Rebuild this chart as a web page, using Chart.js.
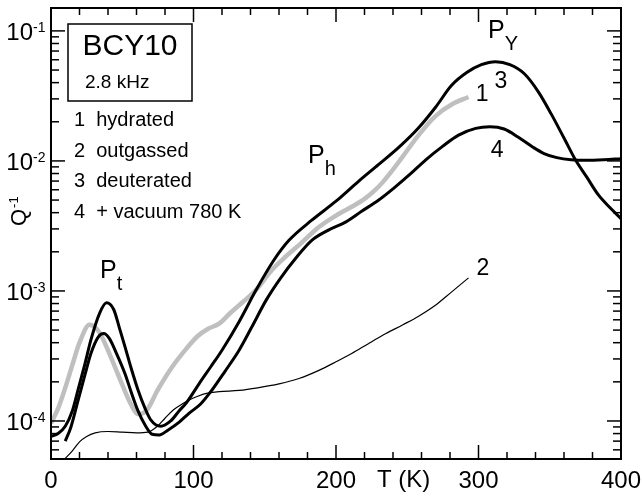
<!DOCTYPE html>
<html>
<head>
<meta charset="utf-8">
<script src="https://cdn.jsdelivr.net/npm/chart.js@4.4.1/dist/chart.umd.min.js"></script>
<style>
  html, body { margin: 0; padding: 0; background: #fff; }
  #wrap { width: 642px; height: 500px; }
</style>
</head>
<body>
<div id="wrap"><canvas id="chart" width="642" height="500"></canvas></div>
<script>
// 1 hydrated (grey)
const t1 = [0, 5, 10, 15, 20, 27, 34, 42, 50, 56, 61, 67, 75, 85, 95, 103, 110, 118, 126, 135, 144, 155, 165, 175, 188, 200, 212, 220, 227, 233, 239, 246, 258, 270, 282, 293];
const q1 = [9.6e-5, 1.25e-4, 1.8e-4, 2.7e-4, 4.0e-4, 5.5e-4, 4.8e-4, 3.1e-4, 1.9e-4, 1.35e-4, 1.13e-4, 1.2e-4, 1.74e-4, 2.6e-4, 3.6e-4, 4.5e-4, 5.1e-4, 5.6e-4, 6.8e-4, 8.3e-4, 1.02e-3, 1.45e-3, 1.85e-3, 2.3e-3, 3.1e-3, 3.8e-3, 4.5e-3, 5.1e-3, 5.9e-3, 6.9e-3, 8.3e-3, 0.0105, 0.0158, 0.0222, 0.0275, 0.031];

// 2 outgassed (thin)
const t2 = [8, 15, 20, 25, 31, 40, 50, 60, 68, 75, 80, 86, 92, 97, 103, 109, 118, 132, 145, 160, 174, 188, 200, 211, 223, 235, 247, 258, 270, 281, 293];
const q2 = [4.9e-5, 5.9e-5, 6.9e-5, 7.6e-5, 8.1e-5, 8.3e-5, 8.2e-5, 8.1e-5, 8.2e-5, 9.2e-5, 1.05e-4, 1.22e-4, 1.35e-4, 1.45e-4, 1.55e-4, 1.63e-4, 1.68e-4, 1.72e-4, 1.8e-4, 1.93e-4, 2.12e-4, 2.45e-4, 2.85e-4, 3.3e-4, 3.95e-4, 4.7e-4, 5.5e-4, 6.4e-4, 7.8e-4, 9.8e-4, 1.26e-3];

// 3 deuterated
const t3 = [0, 5, 10, 15, 19, 24, 28, 34, 39, 44, 48, 52, 56, 61, 66, 70, 77, 84, 90, 95, 104, 112, 120, 132, 144, 156, 167, 183, 200, 216, 230, 245, 258, 270, 281, 292, 302, 312, 322, 332, 342, 351, 360, 368, 376, 384, 392, 400];
const q3 = [7.6e-5, 8.0e-5, 9.1e-5, 1.2e-4, 1.74e-4, 2.8e-4, 4.2e-4, 6.7e-4, 8.1e-4, 7.2e-4, 5.2e-4, 3.7e-4, 2.6e-4, 1.74e-4, 1.25e-4, 1.02e-4, 9.1e-5, 1.0e-4, 1.2e-4, 1.38e-4, 1.94e-4, 2.6e-4, 3.5e-4, 5.8e-4, 1.02e-3, 1.7e-3, 2.45e-3, 3.5e-3, 4.9e-3, 7.0e-3, 9.4e-3, 0.013, 0.018, 0.026, 0.038, 0.048, 0.055, 0.058, 0.055, 0.047, 0.034, 0.023, 0.015, 0.0102, 0.0075, 0.0055, 0.0044, 0.0036];

// 4 + vacuum 780 K
const t4 = [10, 14, 19, 24, 28, 33, 37, 41, 46, 52, 56, 61, 66, 71, 76, 82, 90, 97, 105, 113, 122, 132, 141, 151, 161, 172, 183, 195, 207, 218, 230, 240, 252, 263, 275, 286, 298, 308, 318, 328, 338, 346, 355, 365, 375, 388, 400];
const q4 = [7.0e-5, 9.0e-5, 1.44e-4, 2.3e-4, 3.3e-4, 4.4e-4, 4.7e-4, 4.3e-4, 3.3e-4, 2.3e-4, 1.7e-4, 1.2e-4, 9.3e-5, 7.9e-5, 7.8e-5, 8.5e-5, 9.8e-5, 1.15e-4, 1.35e-4, 1.73e-4, 2.4e-4, 3.5e-4, 5.3e-4, 8.5e-4, 1.25e-3, 1.8e-3, 2.45e-3, 2.95e-3, 3.4e-3, 4.1e-3, 5.0e-3, 6.1e-3, 7.9e-3, 0.0102, 0.013, 0.0158, 0.0178, 0.0183, 0.0176, 0.0152, 0.0128, 0.0114, 0.0106, 0.0102, 0.0101, 0.0102, 0.0104];

const xMajorTicks = [0, 100, 200, 300, 400];
const xMinorStep = 20;
const yDecades = [1e-4, 1e-3, 1e-2, 1e-1];
const yDecadeExponents = ["-4", "-3", "-2", "-1"];

const legendTitle = "BCY10";
const legendFreq = "2.8 kHz";
const legendLines = ["1  hydrated", "2  outgassed", "3  deuterated", "4  + vacuum 780 K"];

const curveLabels = [
  { text: "1", t: 302.5, q: 0.0322 },
  { text: "3", t: 315.8, q: 0.0406 },
  { text: "4", t: 313, q: 0.0119 },
  { text: "2", t: 303, q: 1.48e-3 },
];
const peakLabels = [
  { main: "P", sub: "t", t: 34.4, q: 1.26e-3 },
  { main: "P", sub: "h", t: 180.4, q: 9.66e-3 },
  { main: "P", sub: "Y", t: 306.7, q: 0.0883 },
];

const FONT = '"Liberation Sans", Arial, Helvetica, sans-serif';
const toPoints = (ts, qs) => ts.map((t, i) => ({ x: t, y: qs[i] }));

const line = (ctx, x0, y0, x1, y1) => {
  ctx.beginPath();
  ctx.moveTo(x0, y0);
  ctx.lineTo(x1, y1);
  ctx.stroke();
};

const framePlugin = {
  id: "frame",
  afterDatasetsDraw(chart) {
    const { ctx, chartArea: a } = chart;
    const x = chart.scales.x;
    const y = chart.scales.y;
    ctx.save();
    ctx.strokeStyle = "#000";
    ctx.fillStyle = "#000";

    // ticks, inward on all four sides
    ctx.lineWidth = 1.5;
    for (let t = x.min; t <= x.max; t += xMinorStep) {
      const px = x.getPixelForValue(t);
      const len = xMajorTicks.includes(t) ? 14 : 7;
      line(ctx, px, a.bottom, px, a.bottom - len);
      line(ctx, px, a.top, px, a.top + len);
    }
    [1e-5, ...yDecades].forEach((d) => {
      for (let m = 1; m <= 9; m++) {
        const v = d * m;
        if (v < y.min || v > y.max) continue;
        const py = y.getPixelForValue(v);
        const len = m === 1 ? 14 : 8;
        line(ctx, a.left, py, a.left + len, py);
        line(ctx, a.right, py, a.right - len, py);
      }
    });

    ctx.lineWidth = 2;
    ctx.strokeRect(a.left, a.top, a.right - a.left, a.bottom - a.top);

    // x tick labels
    ctx.font = "24px " + FONT;
    ctx.textAlign = "center";
    ctx.textBaseline = "alphabetic";
    xMajorTicks.forEach((t) => {
      ctx.fillText(String(t), x.getPixelForValue(t), a.bottom + 29);
    });
    ctx.textAlign = "left";
    ctx.fillText("T (K)", 377, a.bottom + 28);

    // y tick labels 10^n
    yDecades.forEach((d, i) => {
      const py = y.getPixelForValue(d);
      ctx.font = "24px " + FONT;
      ctx.textAlign = "right";
      ctx.fillText("10", 33, py + 9);
      ctx.font = "14px " + FONT;
      ctx.textAlign = "left";
      ctx.fillText(yDecadeExponents[i], 33, py + 1);
    });

    // y title Q^-1
    ctx.save();
    ctx.translate(26, 226);
    ctx.rotate(-Math.PI / 2);
    ctx.font = "22px " + FONT;
    ctx.textAlign = "left";
    ctx.fillText("Q", 0, 0);
    const qw = ctx.measureText("Q").width;
    ctx.font = "13px " + FONT;
    ctx.fillText("-1", qw + 1, -8);
    ctx.restore();

    // legend box
    ctx.lineWidth = 1.5;
    ctx.strokeRect(a.left + 17, a.top + 16, 124, 77);
    ctx.font = "30px " + FONT;
    ctx.textAlign = "center";
    ctx.fillText(legendTitle, a.left + 79, a.top + 47);
    ctx.font = "19px " + FONT;
    ctx.textAlign = "left";
    ctx.fillText(legendFreq, a.left + 34, a.top + 80);
    ctx.font = "20px " + FONT;
    legendLines.forEach((s, i) => {
      ctx.fillText(s, a.left + 23, a.top + 118 + i * 30.5);
    });

    // curve numbers
    ctx.font = "23px " + FONT;
    ctx.textAlign = "center";
    ctx.textBaseline = "middle";
    curveLabels.forEach((l) => {
      ctx.fillText(l.text, x.getPixelForValue(l.t), y.getPixelForValue(l.q));
    });

    // peak names
    ctx.textAlign = "left";
    ctx.textBaseline = "alphabetic";
    peakLabels.forEach((l) => {
      const px = x.getPixelForValue(l.t);
      const py = y.getPixelForValue(l.q);
      ctx.font = "25px " + FONT;
      ctx.fillText(l.main, px, py);
      const w = ctx.measureText(l.main).width;
      ctx.font = "20px " + FONT;
      ctx.fillText(l.sub, px + w, py + 12);
    });

    ctx.restore();
  },
};

const makeSet = (ts, qs, color, width) => ({
  data: toPoints(ts, qs),
  borderColor: color,
  borderWidth: width,
  pointRadius: 0,
  fill: false,
  cubicInterpolationMode: "monotone",
});

new Chart(document.getElementById("chart").getContext("2d"), {
  type: "line",
  data: {
    datasets: [
      makeSet(t3, q3, "#000", 3),
      makeSet(t4, q4, "#000", 3),
      makeSet(t2, q2, "#000", 1.2),
      makeSet(t1, q1, "#bfbfbf", 4.5),
    ],
  },
  options: {
    responsive: false,
    animation: false,
    events: [],
    layout: { padding: { top: 8, right: 21, left: 0, bottom: 0 } },
    plugins: { legend: { display: false }, tooltip: { enabled: false } },
    scales: {
      x: {
        type: "linear",
        min: 0,
        max: 400,
        grid: { display: false },
        border: { display: false },
        ticks: { display: false },
        afterFit: (s) => { s.height = 41; },
      },
      y: {
        type: "logarithmic",
        min: 5.1e-5,
        max: 0.15,
        grid: { display: false },
        border: { display: false },
        ticks: { display: false },
        afterFit: (s) => { s.width = 51; },
      },
    },
  },
  plugins: [framePlugin],
});
</script>
</body>
</html>
